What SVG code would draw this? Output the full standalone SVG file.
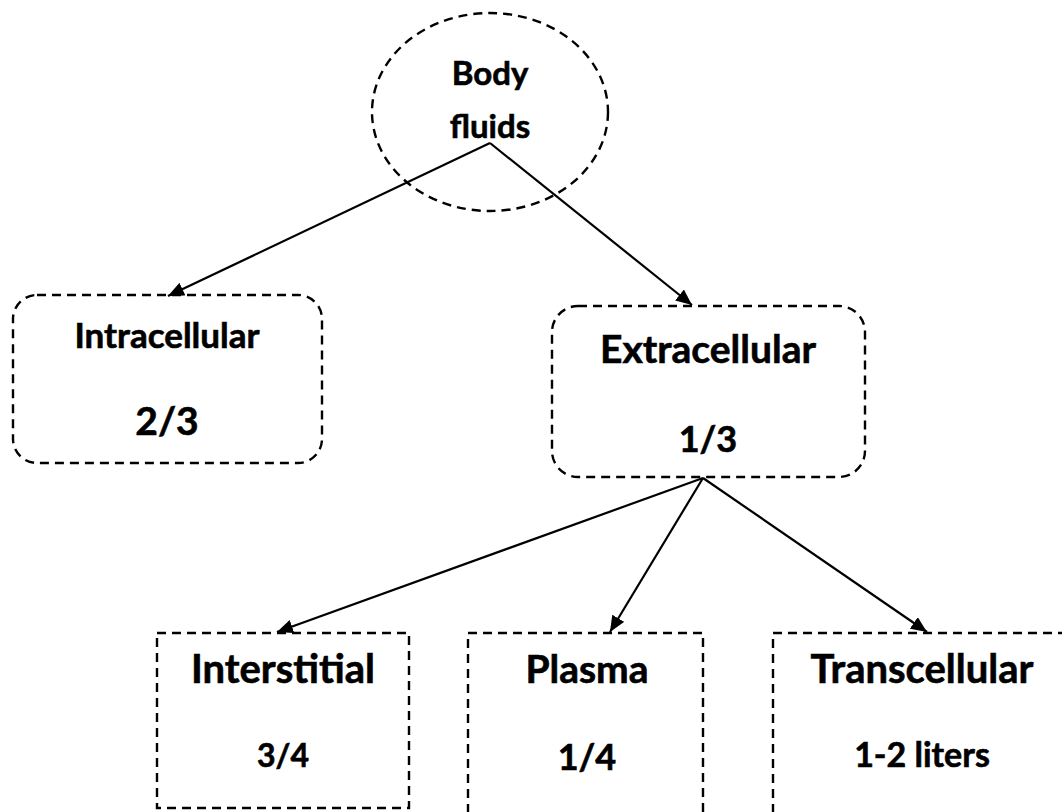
<svg xmlns="http://www.w3.org/2000/svg" width="1062" height="812" viewBox="0 0 1062 812">
<style>
.b{fill:none;stroke:#000;stroke-width:2.4;stroke-dasharray:9 6}
.t{font-family:Lato,"Open Sans",sans-serif;font-weight:bold;fill:#000;stroke:#000;stroke-width:0.6;text-anchor:middle}
.c{stroke:#000;stroke-width:2.2;fill:none;marker-end:url(#ah)}
</style>
<defs>
<marker id="ah" markerUnits="userSpaceOnUse" markerWidth="18" markerHeight="14" refX="16" refY="7" orient="auto">
<path d="M0,0 L16,7 L0,14 Z" fill="#000"/>
</marker>
</defs>
<rect width="1062" height="812" fill="#fff"/>
<g id="body">
<ellipse class="b" cx="490" cy="112" rx="118" ry="99"/>
<text class="t" x="490" y="85" font-size="33">Body</text>
<text class="t" x="490" y="138" font-size="33">fluids</text>
</g>
<g id="intracellular">
<rect class="b" x="13" y="295" width="309" height="168" rx="24"/>
<text class="t" x="167" y="348" font-size="35">Intracellular</text>
<text class="t" x="167" y="435" font-size="39">2/3</text>
</g>
<g id="extracellular">
<rect class="b" x="552" y="306" width="313" height="171" rx="26"/>
<text class="t" x="708" y="363" font-size="39">Extracellular</text>
<text class="t" x="708" y="452" font-size="36">1/3</text>
</g>
<g id="interstitial">
<rect class="b" x="157" y="633" width="252" height="175"/>
<text class="t" x="283" y="683" font-size="40">Interstitial</text>
<text class="t" x="283" y="767" font-size="32">3/4</text>
</g>
<g id="plasma">
<rect class="b" x="468" y="633" width="235" height="200"/>
<text class="t" x="587" y="683" font-size="39">Plasma</text>
<text class="t" x="587" y="770" font-size="36">1/4</text>
</g>
<g id="transcellular">
<rect class="b" x="773" y="633" width="310" height="200"/>
<text class="t" x="922" y="683" font-size="40">Transcellular</text>
<text class="t" x="922" y="767" font-size="34">1-2 liters</text>
</g>
<g id="connectors">
<line class="c" x1="490" y1="143" x2="168" y2="296"/>
<line class="c" x1="490" y1="143" x2="692" y2="305"/>
<line class="c" x1="703" y1="478" x2="277" y2="632"/>
<line class="c" x1="703" y1="478" x2="610" y2="632"/>
<line class="c" x1="703" y1="478" x2="927" y2="632"/>
</g>
</svg>
